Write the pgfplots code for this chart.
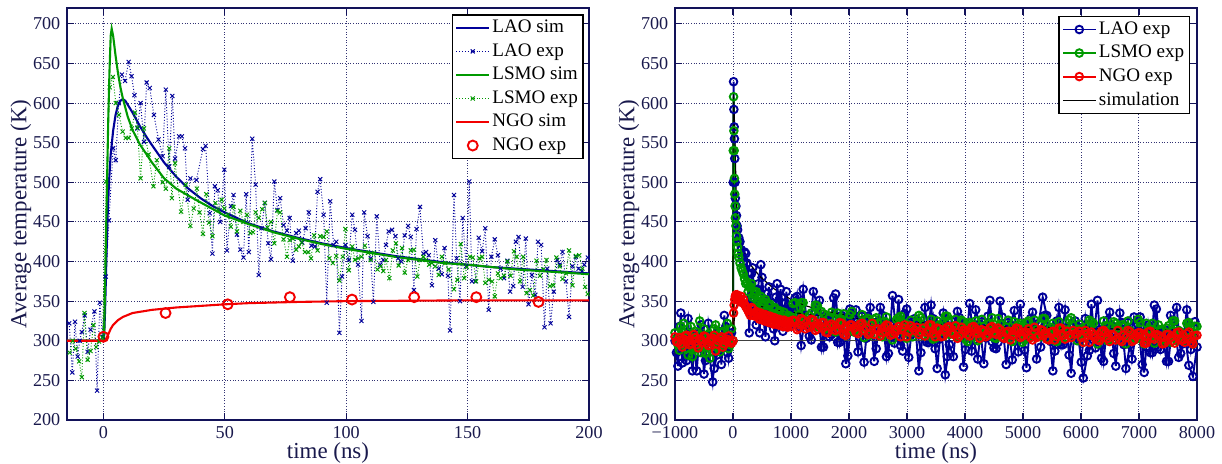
\documentclass[border=0pt]{standalone}
\usepackage{fontspec}
\setmainfont{Liberation Serif}
\usepackage{pgfplots}
\pgfplotsset{compat=1.18}
\usepackage{pgfplotstable}
\definecolor{cblue}{rgb}{0,0,0.6}
\definecolor{cgreen}{rgb}{0,0.6,0}
\definecolor{cred}{rgb}{0.95,0,0}
\definecolor{axcol}{rgb}{0.07,0.07,0.35}
\definecolor{gridcol}{rgb}{0.2,0.2,0.45}
\definecolor{labcol}{rgb}{0.1,0.1,0.3}

% ---------- left panel ----------
\pgfplotstableread[row sep=\\]{t T\\
-15 300\\ 0 300\\ 0.3 305\\ 0.7 340\\ 1.2 400\\ 1.7 455\\ 2.3 500\\ 3 535\\ 4 565\\ 5 585\\ 6 597\\ 7 603\\ 8 605\\ 9 603\\ 10 598\\ 12 588\\ 15 571\\ 18 556\\ 20 547\\ 25 525\\ 30 507\\ 35 492\\ 40 480\\ 45 470\\ 50 462\\ 60 448\\ 70 438\\ 80 430\\ 90 423\\ 100 417\\ 110 412\\ 120 407\\ 130 403\\ 140 399\\ 150 396\\ 160 393\\ 170 391\\ 180 389\\ 190 387\\ 200 385\\
}\laosim

\pgfplotstableread[row sep=\\]{t T\\
-15 300\\ 0 300\\ 0.3 310\\ 1 420\\ 1.5 500\\ 2 580\\ 2.5 640\\ 3 685\\ 3.4 694\\ 4 685\\ 5 660\\ 6 638\\ 7 620\\ 8 606\\ 10 583\\ 12 566\\ 15 548\\ 20 525\\ 25 505\\ 30 492\\ 38 478\\ 50 458\\ 60 447\\ 70 437\\ 80 429\\ 90 422\\ 100 416\\ 110 411\\ 120 406\\ 130 402\\ 140 398\\ 150 396\\ 160 393\\ 170 390\\ 180 388\\ 190 386\\ 200 384\\
}\lsmosim

\pgfplotstableread[row sep=\\]{t T\\
-15 300\\ 0 300\\ 1 302\\ 2 308\\ 3 315\\ 4 320\\ 6 326\\ 8 330\\ 12 335\\ 20 339\\ 30 342\\ 40 344\\ 50 346\\ 60 347.5\\ 80 349\\ 100 350\\ 150 351\\ 200 351\\
}\ngosim

\pgfplotstableread[row sep=\\]{t T\\
0 305\\ 25.6 335\\ 51.2 346\\ 76.8 355\\ 102.4 352\\ 128 355\\ 153.6 355\\ 179.2 349\\
}\ngoexp

\pgfplotstableread[row sep=\\]{t T\\
-14.1 322\\ -12.8 260\\ -11.7 324\\ -10.6 280\\ -9.8 300\\ -8.9 311\\ -7.7 332\\ -6.5 286\\ -5.3 314\\ -3.7 337\\ -2.6 237\\ -1.5 348\\ -0.3 305\\ 0.96 381\\ 2.3 452\\ 4.0 543\\ 5.1 528\\ 6.3 600\\ 7.6 636\\ 8.9 628\\ 10.4 652\\ 11.6 634\\ 12.8 610\\ 14.0 568\\ 15.3 600\\ 16.7 551\\ 17.8 626\\ 19.1 619\\ 20.8 585\\ 22.7 554\\ 24.4 533\\ 25.7 617\\ 27.1 520\\ 28.4 609\\ 29.5 530\\ 31.2 558\\ 32.3 558\\ 33.6 543\\ 34.7 478\\
35.8 505\\ 38.3 503\\ 41.0 542\\ 42.1 546\\ 43.8 461\\ 44.9 410\\ 45.9 495\\ 47.1 490\\ 48.1 450\\ 49.8 516\\ 50.9 414\\ 52.5 470\\ 53.6 484\\ 55.0 434\\ 56.4 415\\ 57.7 405\\ 58.8 485\\ 59.9 412\\ 61.3 555\\ 62.7 497\\ 64.0 383\\ 65.1 442\\ 66.5 474\\ 67.9 423\\ 69.0 403\\ 70.4 501\\ 71.7 465\\ 72.8 480\\ 74.2 446\\ 75.6 439\\ 76.7 455\\ 78.0 401\\ 79.4 436\\ 80.5 439\\ 81.9 424\\ 83.3 442\\ 84.6 462\\ 85.7 420\\ 87.1 419\\ 88.2 488\\
89.3 504\\ 90.7 459\\ 92.0 348\\ 93.4 476\\ 94.8 421\\ 95.9 425\\ 97.2 310\\ 98.3 381\\ 99.7 421\\ 101.1 402\\ 102.5 459\\ 103.6 440\\ 104.9 396\\ 106.3 325\\ 107.4 462\\ 108.8 432\\ 110.1 404\\ 111.2 349\\ 112.6 457\\ 114.0 396\\ 115.3 402\\ 116.4 421\\ 117.5 438\\ 118.9 440\\ 120.3 432\\ 121.4 404\\ 122.7 400\\ 124.1 433\\ 125.5 445\\ 126.6 431\\ 127.9 364\\ 129.0 441\\ 130.4 469\\ 131.8 410\\ 132.9 412\\ 134.0 408\\ 135.3 370\\ 136.7 427\\ 138.1 391\\ 139.4 384\\ 140.5 417\\ 141.9 382\\
142.8 313\\ 144.4 484\\ 145.5 404\\ 146.9 350\\ 148.0 455\\ 149.4 394\\ 150.7 501\\ 151.8 375\\ 153.2 375\\ 154.6 430\\ 156.0 413\\ 157.3 442\\ 158.7 339\\ 159.8 406\\ 161.2 428\\ 162.5 408\\ 163.6 391\\ 165.0 379\\ 166.4 401\\ 167.5 362\\ 168.8 369\\ 169.9 425\\ 171.0 431\\ 172.7 368\\ 174.0 429\\ 175.1 346\\ 176.5 383\\ 177.9 358\\ 179.0 425\\ 180.3 421\\ 181.7 317\\ 182.8 391\\ 184.2 322\\ 185.5 362\\ 186.9 402\\ 188.0 396\\ 189.1 412\\ 190.5 375\\ 191.8 330\\ 193.2 394\\ 194.6 406\\ 195.7 391\\ 197.1 388\\ 198.1 396\\ 199.5 405\\
}\laoexp

\pgfplotstableread[row sep=\\]{t T\\
-13.9 285\\ -12.6 300\\ -11.4 290\\ -10.0 274\\ -8.9 254\\ -7.8 335\\ -6.5 276\\ -5.3 287\\ -4.1 320\\ -3.0 292\\ -1.8 299\\ -0.4 304\\ 1.2 501\\ 2.6 620\\ 3.9 633\\ 5.1 600\\ 6.4 585\\ 7.9 564\\ 9.2 556\\ 10.4 556\\ 11.7 568\\ 13.0 588\\ 14.0 569\\ 15.3 505\\ 16.7 568\\ 18.6 535\\ 20.6 495\\ 22.0 528\\ 24.4 500\\ 25.7 492\\ 27.1 543\\ 28.2 480\\ 29.5 524\\ 32.0 463\\ 33.9 497\\ 35.8 445\\
37.2 467\\ 38.5 492\\ 39.6 462\\ 41.0 435\\ 42.4 485\\ 43.5 449\\ 44.9 432\\ 46.1 474\\ 47.3 465\\ 48.7 478\\ 49.8 467\\ 51.2 459\\ 52.5 444\\ 53.6 469\\ 55.0 438\\ 56.4 464\\ 57.7 450\\ 59.1 459\\ 60.5 436\\ 61.6 437\\ 62.7 462\\ 64.0 455\\ 65.4 466\\ 66.5 474\\ 67.6 443\\ 69.0 450\\ 70.4 423\\ 71.7 464\\ 72.8 462\\ 74.2 428\\ 75.6 406\\ 76.7 427\\ 78.0 429\\ 79.4 415\\ 80.5 419\\ 81.6 424\\ 83.0 412\\ 84.4 412\\ 85.5 404\\ 86.8 433\\ 88.2 414\\
89.3 432\\ 90.7 431\\ 92.0 438\\ 93.1 404\\ 94.5 398\\ 95.9 407\\ 97.2 376\\ 98.6 406\\ 99.7 441\\ 101.1 389\\ 102.5 419\\ 103.6 402\\ 104.9 404\\ 106.3 406\\ 107.7 420\\ 109.0 411\\ 110.1 402\\ 111.5 411\\ 112.9 390\\ 114.2 394\\ 115.3 388\\ 116.4 402\\ 117.8 379\\ 119.2 414\\ 120.5 423\\ 121.6 395\\ 123.0 417\\ 124.1 386\\ 125.5 402\\ 126.6 414\\ 127.9 415\\ 129.3 381\\ 130.4 402\\ 131.8 406\\ 132.9 402\\ 134.2 396\\ 135.3 398\\ 136.7 394\\ 138.1 383\\ 139.4 406\\ 140.8 398\\ 142.2 390\\
144.4 365\\ 145.8 377\\ 147.2 422\\ 148.6 379\\ 149.7 393\\ 151.0 406\\ 152.1 405\\ 153.5 375\\ 154.9 404\\ 156.0 406\\ 157.3 373\\ 158.7 377\\ 160.1 375\\ 161.2 356\\ 162.5 385\\ 163.6 379\\ 165.0 382\\ 166.4 400\\ 167.7 382\\ 169.1 413\\ 170.2 406\\ 171.6 375\\ 172.9 406\\ 174.3 360\\ 175.7 364\\ 177.0 357\\ 178.4 401\\ 179.8 382\\ 181.2 390\\ 182.5 402\\ 183.9 369\\ 185.3 370\\ 186.6 405\\ 188.0 394\\ 189.1 378\\ 190.5 385\\ 191.8 414\\ 193.2 370\\ 194.6 407\\ 196.0 408\\ 197.3 391\\ 198.4 368\\ 199.5 359\\
}\lsmoexp

% ---------- right panel ----------
\pgfplotstableread[row sep=\\]{t T\\
-1000 300\\ -950 268\\ -900 335\\ -850 290\\ -800 275\\ -750 310\\ -700 262\\ -650 298\\ -600 285\\ -550 320\\ -500 258\\ -450 300\\ -400 278\\ -350 248\\ -300 290\\ -250 312\\ -200 270\\ -150 332\\ -100 285\\ -50 305\\ 0 300\\
5 500\\ 10 627\\ 15 592\\ 20 570\\ 25 555\\ 30 530\\ 35 500\\ 40 480\\ 50 470\\ 60 458\\ 70 445\\ 80 440\\ 90 425\\ 100 430\\ 120 425\\ 140 415\\ 160 405\\ 180 400\\ 200 412\\
240 398\\ 280 310\\ 320 385\\ 360 352\\ 400 320\\ 440 372\\ 480 396\\ 520 330\\ 560 305\\ 600 360\\ 640 322\\ 680 348\\ 720 300\\ 760 372\\ 800 340\\ 840 355\\ 880 318\\ 920 362\\ 960 335\\ 1000 345\\
1070 354\\ 1140 317\\ 1210 365\\ 1280 320\\ 1350 301\\ 1420 337\\ 1490 351\\ 1560 292\\ 1630 326\\ 1700 308\\
1770 359\\ 1840 298\\ 1910 325\\ 1980 281\\ 2050 330\\ 2120 339\\ 2190 304\\ 2260 273\\ 2330 331\\ 2400 314\\
2470 290\\ 2540 342\\ 2610 322\\ 2680 284\\ 2750 357\\ 2820 307\\ 2890 294\\ 2960 334\\ 3030 279\\ 3100 324\\
3170 315\\ 3240 285\\ 3310 342\\ 3380 298\\ 3450 328\\ 3520 265\\ 3590 318\\ 3660 257\\ 3730 295\\ 3800 280\\
3870 337\\ 3940 319\\ 4010 289\\ 4080 347\\ 4150 301\\ 4220 277\\ 4290 324\\ 4360 304\\ 4430 351\\ 4500 291\\
4570 298\\ 4640 330\\ 4710 270\\ 4780 320\\ 4850 338\\ 4920 286\\ 4990 313\\ 5060 266\\ 5130 328\\ 5200 316\\
5270 322\\ 5340 355\\ 5410 332\\ 5480 299\\ 5550 287\\ 5620 342\\ 5690 295\\ 5760 317\\ 5830 259\\ 5900 325\\
5970 301\\ 6040 253\\ 6110 281\\ 6180 346\\ 6250 291\\ 6320 314\\ 6390 274\\ 6460 326\\ 6530 318\\ 6600 268\\
6670 335\\ 6740 295\\ 6810 323\\ 6880 277\\ 6950 311\\ 7020 330\\ 7090 260\\ 7160 320\\ 7230 285\\ 7300 340\\
7370 289\\ 7440 314\\ 7510 274\\ 7580 326\\ 7650 342\\ 7720 284\\ 7790 309\\ 7860 269\\ 7930 255\\ 8000 292\\
}\laor

\pgfplotstableread[row sep=\\]{t T\\
-975 285\\ -925 318\\ -875 272\\ -825 305\\ -775 328\\ -725 280\\ -675 295\\ -625 262\\ -575 310\\ -525 290\\ -475 275\\ -425 322\\ -375 300\\ -325 265\\ -275 282\\ -225 305\\ -175 295\\ -125 318\\ -75 278\\ -25 310\\ 100 nan\\
220 410\\ 260 385\\ 300 345\\ 340 392\\ 380 335\\ 420 365\\ 460 310\\ 500 380\\ 540 350\\ 580 325\\ 620 368\\ 660 338\\ 700 315\\ 740 355\\ 780 330\\ 820 365\\ 860 312\\ 900 348\\ 940 325\\ 980 340\\
1035 321\\ 1105 356\\ 1175 294\\ 1245 332\\ 1315 306\\ 1385 362\\ 1455 345\\ 1525 292\\ 1595 331\\ 1665 305\\
1735 354\\ 1805 298\\ 1875 332\\ 1945 271\\ 2015 340\\ 2085 320\\ 2155 286\\ 2225 331\\ 2295 303\\ 2365 342\\
2435 274\\ 2505 324\\ 2575 332\\ 2645 280\\ 2715 320\\ 2785 297\\ 2855 352\\ 2925 287\\ 2995 340\\ 3065 307\\
3135 328\\ 3205 262\\ 3275 320\\ 3345 298\\ 3415 345\\ 3485 290\\ 3555 302\\ 3625 335\\ 3695 280\\ 3765 325\\
3835 317\\ 3905 329\\ 3975 267\\ 4045 314\\ 4115 287\\ 4185 339\\ 4255 321\\ 4325 271\\ 4395 331\\ 4465 299\\
4535 290\\ 4605 350\\ 4675 303\\ 4745 323\\ 4815 276\\ 4885 300\\ 4955 346\\ 5025 288\\ 5095 318\\ 5165 336\\
5235 277\\ 5305 292\\ 5375 332\\ 5445 315\\ 5515 262\\ 5585 325\\ 5655 295\\ 5725 339\\ 5795 282\\ 5865 312\\
5935 318\\ 6005 273\\ 6075 328\\ 6145 288\\ 6215 301\\ 6285 351\\ 6355 278\\ 6425 316\\ 6495 336\\ 6565 284\\
6635 307\\ 6705 323\\ 6775 265\\ 6845 295\\ 6915 330\\ 6985 320\\ 7055 270\\ 7125 313\\ 7195 285\\ 7265 345\\
7335 292\\ 7405 309\\ 7475 274\\ 7545 332\\ 7615 316\\ 7685 279\\ 7755 296\\ 7825 339\\ 7895 289\\ 7965 324\\
}\laorB

\pgfplotstableread[row sep=\\]{t T\\
-1000 310\\ -950 295\\ -900 318\\ -850 322\\ -800 290\\ -750 305\\ -700 280\\ -650 312\\ -600 298\\ -550 285\\ -500 315\\ -450 292\\ -400 278\\ -350 305\\ -300 320\\ -250 290\\ -200 310\\ -150 300\\ -100 322\\ -50 295\\ 0 300\\
5 540\\ 10 608\\ 15 565\\ 20 540\\ 25 505\\ 30 485\\ 35 470\\ 40 455\\ 50 445\\ 60 432\\ 70 425\\ 80 418\\ 90 410\\ 100 405\\ 120 398\\ 140 392\\ 160 388\\ 180 384\\ 200 378\\
240 374\\ 280 368\\ 320 372\\ 360 358\\ 400 362\\ 440 350\\ 480 356\\ 520 345\\ 560 352\\ 600 340\\ 640 346\\ 680 335\\ 720 342\\ 760 332\\ 800 338\\ 840 328\\ 880 336\\ 920 325\\ 960 332\\ 1000 330\\
1070 348\\ 1140 333\\ 1210 348\\ 1280 324\\ 1350 335\\ 1420 345\\ 1490 317\\ 1560 334\\ 1630 319\\ 1700 336\\
1770 311\\ 1840 328\\ 1910 334\\ 1980 316\\ 2050 337\\ 2120 311\\ 2190 322\\ 2260 304\\ 2330 328\\ 2400 323\\
2470 329\\ 2540 306\\ 2610 324\\ 2680 314\\ 2750 301\\ 2820 327\\ 2890 331\\ 2960 310\\ 3030 320\\ 3100 305\\
3170 322\\ 3240 329\\ 3310 306\\ 3380 318\\ 3450 302\\ 3520 325\\ 3590 312\\ 3660 331\\ 3730 308\\ 3800 317\\
3870 306\\ 3940 326\\ 4010 302\\ 4080 323\\ 4150 319\\ 4220 300\\ 4290 327\\ 4360 313\\ 4430 322\\ 4500 304\\
4570 328\\ 4640 308\\ 4710 317\\ 4780 302\\ 4850 324\\ 4920 320\\ 4990 298\\ 5060 323\\ 5130 311\\ 5200 326\\
5270 306\\ 5340 328\\ 5410 303\\ 5480 317\\ 5550 300\\ 5620 324\\ 5690 315\\ 5760 304\\ 5830 329\\ 5900 308\\
5970 321\\ 6040 298\\ 6110 318\\ 6180 324\\ 6250 304\\ 6320 309\\ 6390 325\\ 6460 300\\ 6530 317\\ 6600 322\\
6670 300\\ 6740 318\\ 6810 325\\ 6880 306\\ 6950 302\\ 7020 323\\ 7090 296\\ 7160 314\\ 7230 322\\ 7300 305\\
7370 314\\ 7440 298\\ 7510 319\\ 7580 325\\ 7650 300\\ 7720 311\\ 7790 303\\ 7860 323\\ 7930 296\\ 8000 318\\
}\lsmor

\pgfplotstableread[row sep=\\]{t T\\
-975 300\\ -925 288\\ -875 312\\ -825 295\\ -775 282\\ -725 318\\ -675 302\\ -625 290\\ -575 325\\ -525 296\\ -475 284\\ -425 308\\ -375 300\\ -325 315\\ -275 292\\ -225 286\\ -175 312\\ -125 298\\ -75 290\\ -25 315\\ 100 nan\\
220 372\\ 260 362\\ 300 368\\ 340 355\\ 380 360\\ 420 348\\ 460 353\\ 500 344\\ 540 349\\ 580 338\\ 620 344\\ 660 333\\ 700 340\\ 740 330\\ 780 336\\ 820 327\\ 860 333\\ 900 324\\ 940 330\\ 980 326\\
1035 347\\ 1105 323\\ 1175 348\\ 1245 326\\ 1315 332\\ 1385 320\\ 1455 344\\ 1525 337\\ 1595 315\\ 1665 330\\
1735 319\\ 1805 335\\ 1875 326\\ 1945 307\\ 2015 333\\ 2085 311\\ 2155 315\\ 2225 333\\ 2295 326\\ 2365 307\\
2435 327\\ 2505 322\\ 2575 305\\ 2645 330\\ 2715 314\\ 2785 309\\ 2855 329\\ 2925 323\\ 2995 303\\ 3065 326\\
3135 311\\ 3205 332\\ 3275 307\\ 3345 318\\ 3415 327\\ 3485 303\\ 3555 320\\ 3625 306\\ 3695 331\\ 3765 309\\
3835 327\\ 3905 312\\ 3975 324\\ 4045 299\\ 4115 321\\ 4185 325\\ 4255 303\\ 4325 318\\ 4395 309\\ 4465 329\\
4535 303\\ 4605 321\\ 4675 312\\ 4745 326\\ 4815 299\\ 4885 318\\ 4955 322\\ 5025 301\\ 5095 325\\ 5165 305\\
5235 314\\ 5305 305\\ 5375 328\\ 5445 309\\ 5515 322\\ 5585 299\\ 5655 315\\ 5725 303\\ 5795 326\\ 5865 319\\
5935 300\\ 6005 315\\ 6075 305\\ 6145 326\\ 6215 322\\ 6285 296\\ 6355 309\\ 6425 319\\ 6495 301\\ 6565 324\\
6635 316\\ 6705 320\\ 6775 296\\ 6845 313\\ 6915 302\\ 6985 327\\ 7055 305\\ 7125 322\\ 7195 315\\ 7265 297\\
7335 320\\ 7405 302\\ 7475 316\\ 7545 298\\ 7615 325\\ 7685 313\\ 7755 300\\ 7825 322\\ 7895 305\\ 7965 318\\
}\lsmorB

\pgfplotstableread[row sep=\\]{t T\\
-1000 305\\ -950 298\\ -900 296\\ -850 302\\ -800 307\\ -750 295\\ -700 300\\ -650 304\\ -600 291\\ -550 301\\ -500 306\\ -450 297\\ -400 299\\ -350 303\\ -300 287\\ -250 300\\ -200 305\\ -150 296\\ -100 302\\ -50 299\\ 0 300\\
10 335\\ 20 345\\ 30 352\\ 40 356\\ 50 358\\ 60 355\\ 70 358\\ 80 352\\ 90 356\\ 100 354\\ 120 350\\ 140 356\\ 160 348\\ 180 352\\ 200 346\\
240 341\\ 280 335\\ 320 342\\ 360 333\\ 400 337\\ 440 329\\ 480 335\\ 520 327\\ 560 333\\ 600 325\\ 640 331\\ 680 323\\ 720 329\\ 760 322\\ 800 327\\ 840 320\\ 880 326\\ 920 319\\ 960 324\\ 1000 318\\
1070 325\\ 1140 316\\ 1210 326\\ 1280 318\\ 1350 327\\ 1420 313\\ 1490 319\\ 1560 323\\ 1630 310\\ 1700 321\\
1770 313\\ 1840 323\\ 1910 308\\ 1980 317\\ 2050 320\\ 2120 311\\ 2190 321\\ 2260 313\\ 2330 308\\ 2400 322\\
2470 314\\ 2540 306\\ 2610 317\\ 2680 319\\ 2750 308\\ 2820 315\\ 2890 305\\ 2960 320\\ 3030 311\\ 3100 316\\
3170 317\\ 3240 311\\ 3310 306\\ 3380 320\\ 3450 309\\ 3520 316\\ 3590 305\\ 3660 314\\ 3730 318\\ 3800 308\\
3870 303\\ 3940 317\\ 4010 313\\ 4080 306\\ 4150 318\\ 4220 309\\ 4290 314\\ 4360 305\\ 4430 316\\ 4500 310\\
4570 316\\ 4640 305\\ 4710 310\\ 4780 301\\ 4850 313\\ 4920 315\\ 4990 306\\ 5060 311\\ 5130 304\\ 5200 317\\
5270 306\\ 5340 313\\ 5410 302\\ 5480 311\\ 5550 301\\ 5620 316\\ 5690 307\\ 5760 312\\ 5830 304\\ 5900 309\\
5970 312\\ 6040 298\\ 6110 309\\ 6180 311\\ 6250 304\\ 6320 300\\ 6390 313\\ 6460 303\\ 6530 308\\ 6600 301\\
6670 301\\ 6740 307\\ 6810 313\\ 6880 299\\ 6950 306\\ 7020 310\\ 7090 297\\ 7160 311\\ 7230 304\\ 7300 308\\
7370 305\\ 7440 297\\ 7510 308\\ 7580 300\\ 7650 310\\ 7720 301\\ 7790 298\\ 7860 311\\ 7930 296\\ 8000 307\\
}\ngor

\pgfplotstableread[row sep=\\]{t T\\
-975 299\\ -925 304\\ -875 292\\ -825 306\\ -775 300\\ -725 297\\ -675 308\\ -625 295\\ -575 302\\ -525 298\\ -475 305\\ -425 294\\ -375 301\\ -325 307\\ -275 296\\ -225 303\\ -175 292\\ -125 300\\ -75 306\\ -25 297\\ 100 nan\\
220 343\\ 260 338\\ 300 332\\ 340 340\\ 380 331\\ 420 335\\ 460 327\\ 500 333\\ 540 325\\ 580 331\\ 620 323\\ 660 329\\ 700 321\\ 740 327\\ 780 320\\ 820 325\\ 860 318\\ 900 324\\ 940 317\\ 980 322\\
1035 326\\ 1105 314\\ 1175 328\\ 1245 315\\ 1315 317\\ 1385 326\\ 1455 315\\ 1525 323\\ 1595 311\\ 1665 319\\
1735 319\\ 1805 315\\ 1875 322\\ 1945 307\\ 2015 320\\ 2085 316\\ 2155 309\\ 2225 322\\ 2295 316\\ 2365 310\\
2435 308\\ 2505 315\\ 2575 310\\ 2645 320\\ 2715 307\\ 2785 311\\ 2855 318\\ 2925 316\\ 2995 305\\ 3065 319\\
3135 313\\ 3205 308\\ 3275 316\\ 3345 311\\ 3415 320\\ 3485 305\\ 3555 315\\ 3625 306\\ 3695 317\\ 3765 310\\
3835 319\\ 3905 306\\ 3975 313\\ 4045 308\\ 4115 317\\ 4185 315\\ 4255 303\\ 4325 312\\ 4395 307\\ 4465 318\\
4535 308\\ 4605 314\\ 4675 303\\ 4745 312\\ 4815 307\\ 4885 316\\ 4955 304\\ 5025 311\\ 5095 315\\ 5165 301\\
5235 304\\ 5305 314\\ 5375 310\\ 5445 301\\ 5515 312\\ 5585 305\\ 5655 316\\ 5725 302\\ 5795 307\\ 5865 313\\
5935 309\\ 6005 304\\ 6075 313\\ 6145 298\\ 6215 308\\ 6285 301\\ 6355 312\\ 6425 310\\ 6495 299\\ 6565 307\\
6635 313\\ 6705 299\\ 6775 304\\ 6845 311\\ 6915 301\\ 6985 310\\ 7055 307\\ 7125 297\\ 7195 312\\ 7265 302\\
7335 307\\ 7405 296\\ 7475 308\\ 7545 304\\ 7615 297\\ 7685 311\\ 7755 301\\ 7825 309\\ 7895 298\\ 7965 306\\
}\ngorB

\pgfplotstableread[row sep=\\]{t T\\
-1000 300\\ 0 300\\ 3 560\\ 8 612\\ 15 600\\ 30 560\\ 60 475\\ 90 448\\ 120 430\\ 200 410\\ 300 396\\ 466 381\\ 700 366\\ 1000 352\\ 1213 345\\ 1600 337\\ 2362 328\\ 3000 324\\ 4000 320\\ 5000 317\\ 6000 315.5\\ 7000 314.5\\ 8000 313.5\\
}\simA

\pgfplotstableread[row sep=\\]{t T\\
-1000 300\\ 0 300\\ 20 325\\ 50 342\\ 100 349\\ 200 350\\ 400 345\\ 638 340\\ 1000 336\\ 1213 334\\ 1600 331\\ 2362 327\\ 3000 323.5\\ 4000 319.5\\ 5000 317\\ 6000 315\\ 7000 314\\ 8000 313\\
}\simB

\pgfplotstableread[row sep=\\]{t T\\
-1000 300\\ 8000 300\\
}\simC

\pgfplotsset{
  mstyle/.style={
    scale only axis, width=273.3pt, height=215.7pt,
    axis line style={draw=axcol, line width=0.8pt},
    grid=major,
    major grid style={densely dotted, draw=gridcol, line width=0.5pt},
    tick align=inside, xtick pos=both, ytick pos=both,
    major tick length=3.5pt,
    tick style={draw=axcol, line width=0.6pt},
    ymin=200, ymax=720, ytick={200,250,...,700},
    tick label style={font=\fontsize{9.5}{11}\selectfont, text=labcol},
    label style={font=\fontsize{12}{14}\selectfont, text=labcol},
    /pgf/number format/assume math mode=true,
    /pgf/number format/set thousands separator={},
    xlabel={time (ns)}, ylabel={Average temperature (K)},
    xlabel shift=-5pt, ylabel shift=-6pt,
    unbounded coords=jump,
    legend cell align=left,
    legend style={font=\fontsize{10}{11.5}\selectfont, draw=black, line width=0.8pt,
      fill=white, inner sep=1.5pt, row sep=1.8pt, nodes={inner sep=1.2pt}},
  }
}

\begin{document}
\begin{tikzpicture}
\begin{axis}[mstyle, at={(0pt,0pt)}, anchor=south west,
  xmin=-15, xmax=200, xtick={0,50,100,150,200},
  legend style={at={(0.99,0.985)}, anchor=north east}]
\addplot[cblue, line width=1.1pt] table {\laosim};
\addlegendentry{LAO sim}
\addplot[cblue, line width=0.5pt, densely dotted, mark=x, mark size=1.5pt, mark options={solid}] table {\laoexp};
\addlegendentry{LAO exp}
\addplot[cgreen, line width=1.1pt] table {\lsmosim};
\addlegendentry{LSMO sim}
\addplot[cgreen, line width=0.5pt, densely dotted, mark=x, mark size=1.5pt, mark options={solid}] table {\lsmoexp};
\addlegendentry{LSMO exp}
\addplot[cred, line width=1.1pt] table {\ngosim};
\addlegendentry{NGO sim}
\addplot[cred, only marks, mark=o, mark size=2.6pt, line width=1pt] table {\ngoexp};
\addlegendentry{NGO exp}
\end{axis}

\begin{axis}[mstyle, at={(318.35pt,0pt)}, anchor=south west,
  xmin=-1000, xmax=8000, xtick={-1000,0,1000,2000,3000,4000,5000,6000,7000,8000},
  xticklabels={−1000,0,1000,2000,3000,4000,5000,6000,7000,8000},
  legend style={at={(0.987,0.981)}, anchor=north east}]
\addplot[cblue, line width=1pt, mark=o, mark size=2pt] table {\laor};
\addlegendentry{LAO exp}
\addplot[cblue, line width=1pt, mark=o, mark size=2pt, forget plot] table {\laorB};
\addplot[cgreen, line width=1pt, mark=o, mark size=2pt] table {\lsmor};
\addlegendentry{LSMO exp}
\addplot[cgreen, line width=1pt, mark=o, mark size=2pt, forget plot] table {\lsmorB};
\addplot[cred, line width=1pt, mark=o, mark size=2pt] table {\ngor};
\addlegendentry{NGO exp}
\addplot[cred, line width=1pt, mark=o, mark size=2pt, forget plot] table {\ngorB};
\addplot[black, line width=0.6pt] table {\simA};
\addlegendentry{simulation}
\addplot[black, line width=0.6pt, forget plot] table {\simB};
\addplot[black!75, line width=0.6pt, forget plot] table {\simC};
\end{axis}
\pgfresetboundingbox
\path[use as bounding box] (-35.08pt,-23.04pt) rectangle (604.76pt,219.9pt);
\end{tikzpicture}
\end{document}
